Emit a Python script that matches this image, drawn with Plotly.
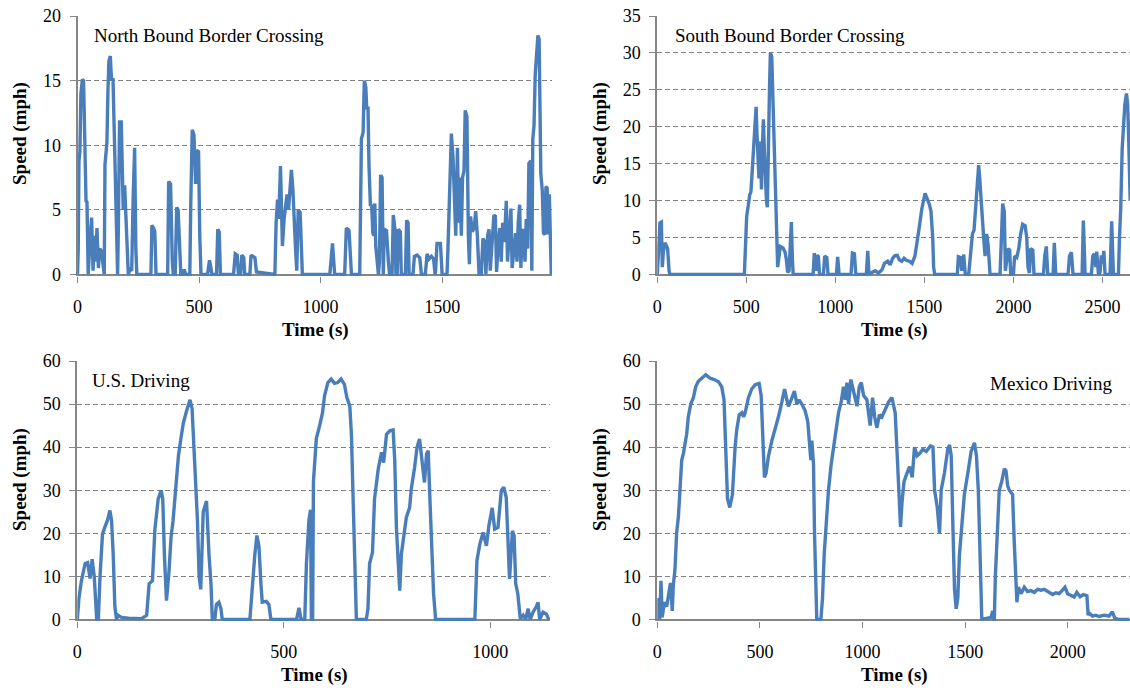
import plotly.graph_objects as go

# ---------------- data (time s, speed mph) ----------------
nb_points = [
    (0, 0), (3, 2), (6, 8.8), (10, 9.5), (14, 14), (20, 15.1), (25, 15), (28, 12), (32, 8), (35, 5.7),
    (39, 5.6), (44, 0), (51, 2.5), (58, 4.4), (64, 0.3), (69, 3), (75, 1), (80, 3.6), (86, 0.5), (92, 2),
    (99, 1.8), (106, 0.2), (110, 0),
    (113, 8.5), (117, 9.2), (121, 10.2), (125, 14), (129, 16.5), (135, 16.9), (140, 15), (146, 15.2),
    (151, 11), (157, 6), (161, 2), (165, 0),
    (168, 3.5), (173, 11.8), (180, 11.8), (184, 9), (188, 5), (194, 6.9), (198, 5), (203, 3), (209, 0),
    (216, 0.4), (223, 0.3), (229, 6), (235, 9.8), (240, 2), (244, 0),
    (302, 0), (306, 3.8), (313, 3.6), (318, 3.3), (323, 0),
    (371, 0), (375, 7.2), (383, 7.0), (390, 1), (394, 0),
    (402, 0), (408, 5.2), (414, 5.0), (421, 2), (425, 0),
    (435, 0), (439, 0.4), (445, 0),
    (462, 0), (466, 5.5), (472, 11.2), (479, 10.8), (486, 7), (491, 9.6), (498, 9.5), (503, 3), (508, 0),
    (535, 0), (543, 1.1), (549, 0.5), (553, 0),
    (572, 0), (577, 3.5), (583, 3.3), (588, 0),
    (642, 0), (649, 1.6), (657, 1.5), (662, 0),
    (671, 0), (676, 1.5), (684, 1.3), (688, 0),
    (709, 0), (714, 1.5), (730, 1.3), (736, 0.2), (812, 0),
    (817, 4), (823, 5.8), (828, 4.3), (835, 8.4), (839, 6), (843, 2.2), (850, 4.3), (857, 5.8), (862, 6.2),
    (868, 5), (875, 6.5), (880, 8.1), (886, 6.6), (891, 5), (897, 2), (902, 0.3), (908, 5), (916, 4.8),
    (921, 2), (925, 0),
    (1038, 0), (1049, 2.4), (1058, 0),
    (1099, 0), (1106, 3.6), (1117, 3.4), (1127, 0),
    (1161, 0), (1168, 10.5), (1175, 11), (1180, 15), (1186, 14.5), (1190, 12.8), (1195, 13), (1199, 8.5),
    (1205, 5.3), (1210, 5.4), (1215, 3.2), (1219, 3), (1223, 5.5), (1227, 2.2), (1234, 0.5), (1238, 0),
    (1242, 1), (1247, 7.7), (1253, 7.5), (1258, 0),
    (1262, 3.5), (1271, 3.4), (1279, 1), (1284, 0),
    (1294, 0), (1299, 4.6), (1306, 3.5), (1310, 0),
    (1315, 0), (1320, 3.5), (1328, 3.3), (1332, 0),
    (1349, 0), (1354, 4.2), (1360, 4), (1364, 0),
    (1380, 0), (1386, 1.4), (1397, 1.5), (1408, 1.3), (1415, 0),
    (1431, 0), (1438, 1.6), (1446, 1.2), (1456, 1.4), (1465, 1.2), (1471, 0),
    (1473, 0.2), (1479, 2.4), (1493, 2.4), (1500, 0),
    (1520, 0), (1524, 2), (1531, 7), (1538, 10.9), (1545, 9), (1550, 6), (1556, 3), (1563, 9.8),
    (1568, 4), (1573, 7.5), (1579, 3), (1584, 7.5), (1590, 8), (1595, 12.7), (1602, 12.2), (1608, 3),
    (1612, 0.8), (1617, 4.5), (1624, 3.3), (1632, 3.6), (1638, 4.9), (1645, 3), (1652, 0),
    (1661, 0), (1668, 2.8), (1675, 2.5), (1680, 0), (1687, 3), (1693, 3.5), (1698, 0.3), (1706, 3),
    (1713, 4.6), (1719, 4.5), (1724, 0.2), (1731, 2.5), (1738, 3.6), (1743, 1), (1749, 4), (1756, 2.5),
    (1764, 5.7), (1769, 1), (1775, 3), (1783, 5.1), (1788, 0.5), (1797, 2.5), (1802, 3.2), (1808, 1),
    (1813, 4), (1819, 5.4), (1824, 0.5), (1830, 3.3), (1835, 3.5), (1841, 1), (1846, 4.3), (1852, 2),
    (1857, 8.6), (1865, 8.8), (1869, 0.3), (1873, 10.5), (1878, 11.5), (1883, 15.5), (1889, 17.5),
    (1894, 18.5), (1899, 18.2), (1904, 13), (1906, 7.8), (1912, 6.5), (1917, 3.2), (1923, 3.1),
    (1927, 6.8), (1932, 6.7), (1937, 3.1), (1941, 6.2), (1945, 4), (1949, 0),
]

sb_points = [
    (0, 0), (10, 4), (15, 7), (23, 7.1), (28, 1), (34, 3), (43, 4.3), (53, 3.8), (58, 3.5), (66, 0.5), (71, 0),
    (489, 0), (495, 2.8), (502, 7.9), (512, 9.5), (519, 10.8), (526, 11.2), (534, 14), (543, 17.5),
    (549, 20.5), (555, 22.7), (560, 19), (566, 16), (571, 13), (579, 18), (585, 11.5), (590, 17),
    (596, 21), (601, 17), (607, 13), (613, 10), (618, 9.1), (624, 20), (630, 25), (635, 30), (643, 29.5),
    (648, 25), (654, 20), (660, 15), (665, 9), (671, 5), (676, 1), (684, 2.5), (691, 3.8), (706, 3.6),
    (718, 3), (725, 2), (732, 0.3), (740, 0.5), (748, 6), (753, 7.1), (759, 2), (763, 0),
    (875, 0), (882, 2.9), (890, 0.5), (897, 2.6), (905, 2.4), (911, 0),
    (933, 0), (940, 2.5), (952, 2.3), (959, 0),
    (1006, 0), (1013, 2.4), (1021, 0),
    (1088, 0), (1096, 2.9), (1107, 2.8), (1115, 0),
    (1174, 0), (1182, 3.2), (1189, 0),
    (1201, 0.2), (1223, 0.5), (1242, 0.2), (1261, 0.6), (1276, 1.5), (1294, 1.8), (1308, 1.3),
    (1322, 2.2), (1335, 2.55), (1348, 2.6), (1359, 2.0), (1373, 1.8), (1386, 2.2), (1401, 1.9),
    (1416, 1.8), (1431, 1.5), (1447, 2.5), (1461, 5.2), (1472, 6.5), (1485, 8.8), (1494, 10),
    (1504, 11), (1517, 10.2), (1528, 9.5), (1537, 8.6), (1547, 5), (1552, 1), (1558, 0),
    (1685, 0), (1691, 2.4), (1702, 2.3), (1710, 0.5), (1721, 2.7), (1730, 0),
    (1749, 0), (1760, 3), (1770, 5.5), (1779, 6), (1786, 8), (1792, 11), (1800, 13), (1805, 14.8),
    (1811, 13), (1818, 10), (1826, 8.5), (1833, 5), (1841, 2.5), (1850, 5.5), (1858, 4), (1863, 1), (1869, 0),
    (1925, 0), (1933, 7), (1940, 9.6), (1949, 8.5), (1955, 0.5), (1963, 2), (1970, 3.5), (1979, 3.3), (1985, 0),
    (2000, 0), (2007, 2.5), (2019, 2.3), (2030, 3.5), (2041, 5.5), (2052, 6.8), (2066, 6.6), (2075, 5),
    (2082, 1), (2090, 0.2), (2097, 3.5), (2109, 3.3), (2116, 0),
    (2169, 0), (2176, 2.5), (2185, 3.8), (2193, 0), (2223, 0), (2230, 4.3), (2238, 0),
    (2307, 0), (2315, 2.5), (2326, 3), (2335, 0),
    (2386, 0), (2393, 7.3), (2403, 0),
    (2438, 0), (2446, 2.5), (2455, 2.8), (2463, 1), (2468, 3.1), (2478, 0), (2487, 0.3), (2494, 2.6),
    (2502, 1.5), (2508, 3.2), (2515, 0),
    (2543, 0), (2552, 7.2), (2562, 0),
    (2590, 0), (2596, 5), (2603, 9), (2611, 17), (2618, 21), (2626, 23), (2635, 24.5), (2642, 23),
    (2648, 18), (2656, 10),
]

us_points = [
    (0, 0), (4, 5), (10, 9), (19, 13), (25, 13.2), (31, 9.5), (36, 14), (41, 10), (47, 0), (51, 0),
    (55, 10), (61, 19.8), (67, 21.5), (73, 23), (79, 25.3), (83, 23), (87, 15), (91, 3), (95, 0), (99, 1),
    (107, 0.5), (124, 0.3), (156, 0.2), (168, 1), (174, 8.3), (182, 9), (188, 21), (196, 28), (203, 30),
    (207, 28), (211, 15), (216, 4.4), (222, 11), (227, 19), (232, 23), (238, 30), (245, 38), (251, 42),
    (257, 45.7), (265, 48.5), (273, 51), (278, 49), (283, 40), (287, 32), (291, 23), (295, 10), (299, 7),
    (305, 25), (313, 27.5), (319, 15), (324, 8), (327, 0), (333, 0), (337, 3.5), (343, 4), (348, 2.5),
    (351, 0), (418, 0), (424, 8), (430, 15), (435, 19.5), (440, 17), (445, 8), (448, 4), (458, 4.2),
    (464, 3.5), (469, 0), (531, 0), (537, 2.7), (542, 0), (551, 0), (555, 13), (561, 23), (565, 25.5),
    (567, 0), (570, 0), (572, 32), (575, 38), (579, 42), (587, 45), (594, 48), (599, 52), (607, 55),
    (615, 55.8), (623, 54.8), (631, 55), (639, 55.8), (647, 54.6), (653, 51.5), (660, 49.6), (664, 43),
    (668, 28.3), (672, 12), (676, 0), (700, 0), (704, 2.5), (708, 13), (715, 15.6), (720, 28), (729, 35),
    (737, 38.8), (742, 36.4), (749, 43), (757, 43.8), (765, 44), (769, 36.8), (773, 21.4), (777, 15.2),
    (781, 6.7), (785, 15.2), (791, 19.8), (797, 23.7), (805, 26), (809, 30.3), (817, 35.3), (823, 40),
    (829, 41.9), (835, 36.8), (841, 31.8), (846, 38.4), (850, 39.2), (854, 28.3), (858, 16.8), (863, 6),
    (868, 0), (963, 0), (968, 13.7), (975, 17.5), (983, 20.2), (991, 17.1), (997, 21.8), (1005, 25.9),
    (1011, 21), (1019, 21.4), (1027, 29.9), (1033, 30.7), (1039, 28.3), (1045, 15.2), (1047, 9.4),
    (1054, 20.6), (1058, 19.5), (1062, 8.3), (1067, 6), (1073, 0.2), (1080, 1), (1086, 0), (1092, 2.5),
    (1097, 0), (1104, 1.7), (1112, 3), (1116, 4), (1120, 0), (1128, 1.7), (1136, 1.3), (1142, 0),
]

mx_points = [
    (0, 0), (5, 5), (12, 0), (18, 9), (24, 0.5), (34, 4), (46, 3), (54, 5.5), (64, 8.5), (73, 2), (78, 8),
    (86, 11.5), (94, 20), (103, 24), (111, 32), (119, 37), (127, 38.5), (135, 41), (143, 43), (151, 47),
    (163, 50), (176, 51.5), (187, 54), (200, 55.3), (216, 56), (236, 56.8), (257, 56), (278, 55.7),
    (298, 55.2), (314, 54), (325, 51), (334, 40), (342, 28), (353, 26), (366, 29), (379, 40), (387, 44),
    (399, 47.5), (412, 48), (420, 47), (428, 48), (444, 51.5), (460, 53.5), (477, 54.5), (496, 54.8),
    (506, 52), (514, 40), (522, 33), (530, 34), (542, 38), (558, 41.5), (574, 44), (590, 47), (607, 50.5),
    (620, 53.5), (631, 51), (639, 49.5), (652, 51), (668, 53), (680, 50), (691, 51), (704, 50),
    (720, 48.5), (733, 46), (742, 40), (748, 37), (753, 41.5), (761, 36), (766, 20), (773, 3), (777, 0),
    (797, 0), (805, 5), (813, 15), (821, 22), (834, 30), (847, 36), (859, 40), (870, 43.5), (883, 48),
    (896, 50.5), (907, 54), (916, 51), (924, 55), (932, 50), (943, 55.7), (956, 53), (973, 49.5),
    (984, 54), (994, 55), (1005, 52), (1021, 51), (1029, 48), (1037, 45), (1049, 51.5), (1059, 47),
    (1070, 44.5), (1082, 47.5), (1094, 47), (1111, 49), (1127, 50.5), (1143, 51.5), (1151, 50),
    (1159, 48), (1169, 38), (1176, 30), (1185, 21.5), (1192, 27), (1202, 32), (1213, 33.5), (1229, 35.5),
    (1242, 33), (1253, 40), (1266, 38), (1278, 38.5), (1294, 39.5), (1310, 39), (1331, 40.3), (1343, 40),
    (1351, 30), (1364, 26), (1375, 20), (1383, 30), (1399, 34), (1415, 39.5), (1424, 40.5), (1432, 38),
    (1440, 22), (1448, 7), (1456, 2.5), (1464, 5), (1472, 15), (1483, 22), (1496, 29), (1513, 34),
    (1529, 39), (1545, 41), (1555, 38), (1564, 30), (1571, 15), (1581, 0), (1626, 0.5), (1634, 2),
    (1639, 0), (1642, 0), (1647, 10), (1655, 20), (1666, 30), (1678, 32), (1691, 35), (1699, 34.5),
    (1707, 31), (1715, 30), (1723, 29.5), (1731, 29), (1739, 18), (1748, 6), (1752, 4), (1759, 7.5),
    (1772, 6), (1788, 7.5), (1804, 6.5), (1820, 6.7), (1837, 6.3), (1853, 7), (1869, 6.8), (1885, 7),
    (1910, 6.3), (1926, 5.8), (1942, 6.2), (1958, 6), (1974, 6.8), (1986, 7.5), (1999, 6), (2015, 5.5),
    (2031, 5.2), (2044, 6.3), (2060, 5.3), (2076, 5.8), (2093, 5.5), (2099, 1), (2104, 1.5), (2120, 0.8),
    (2136, 1), (2153, 0.7), (2177, 1.0), (2201, 0.8), (2217, 1.8), (2229, 0.3), (2250, 0), (2300, 0),
]

panel_titles = ["North Bound Border Crossing", "South Bound Border Crossing", "U.S. Driving", "Mexico Driving"]
x_max = [1952, 2655, 1145, 2303]
y_max = [20, 35, 60, 60]
y_step = [5, 5, 10, 10]
x_ticks = [[0, 500, 1000, 1500], [0, 500, 1000, 1500, 2000, 2500], [0, 500, 1000], [0, 500, 1000, 1500, 2000]]
x_title = "Time (s)"
y_title = "Speed (mph)"

# ---------------- figure ----------------
W, H = 1130, 688
LINE = "#4A7EBB"
GRID = "#7F7F7F"
AX = "#868686"
FONT = "Liberation Serif"

# pixel boxes of the four plot areas (left, right, top, bottom)
boxes = [(77.5, 552, 16, 276), (657.3, 1130, 16, 276), (77.3, 550, 361, 621), (657.3, 1130, 361, 621)]

fig = go.Figure()
series = [nb_points, sb_points, us_points, mx_points]
for i, pts in enumerate(series):
    n = "" if i == 0 else str(i + 1)
    fig.add_trace(go.Scatter(
        x=[p[0] for p in pts], y=[p[1] for p in pts], mode="lines",
        line=dict(color=LINE, width=3.4), xaxis="x" + n, yaxis="y" + n,
        showlegend=False, hoverinfo="skip"))

layout = dict(
    width=W, height=H, margin=dict(l=0, r=0, t=0, b=0, autoexpand=False),
    paper_bgcolor="white", plot_bgcolor="white",
    font=dict(family=FONT, color="black", size=18),
    annotations=[],
)
for i in range(4):
    n = "" if i == 0 else str(i + 1)
    l, r, t, b = boxes[i]
    h_px = b - t
    pad = 1.5 / h_px * y_max[i]
    layout["xaxis" + n] = dict(
        domain=[l / W, r / W], range=[0, x_max[i]], anchor="y" + n, automargin=False,
        tickvals=x_ticks[i], showgrid=False, zeroline=False, showline=False,
        ticks="outside", ticklen=6, tickcolor=AX, tickwidth=1.2,
        tickfont=dict(size=18, family=FONT), ticklabelstandoff=8,
    )
    layout["yaxis" + n] = dict(
        domain=[1 - b / H, 1 - t / H], range=[-pad, y_max[i]], anchor="x" + n, automargin=False,
        dtick=y_step[i], tick0=0, showgrid=True, gridcolor=GRID, gridwidth=1.2, griddash="5px,3px",
        zeroline=True, zerolinecolor=AX, zerolinewidth=1.8,
        showline=True, linecolor=AX, linewidth=1.8,
        ticks="outside", ticklen=6, tickcolor=AX, tickwidth=1.2,
        tickfont=dict(size=18, family=FONT), ticklabelstandoff=5,
    )

ann = layout["annotations"]
# panel titles
ann.append(dict(text=panel_titles[0], x=92 / W, y=1 - 36 / H, xanchor="left", yanchor="middle"))
ann.append(dict(text=panel_titles[1], x=672.5 / W, y=1 - 36 / H, xanchor="left", yanchor="middle"))
ann.append(dict(text=panel_titles[2], x=90 / W, y=1 - 380 / H, xanchor="left", yanchor="middle"))
ann.append(dict(text=panel_titles[3], x=1114 / W, y=1 - 383 / H, xanchor="right", yanchor="middle"))
for a in ann:
    a.update(xref="paper", yref="paper", showarrow=False, font=dict(size=19, family=FONT, color="black"))

# axis titles
for xc, yc in [(20, 134), (600, 134), (20, 480), (600, 480)]:
    ann.append(dict(text="<b>" + y_title + "</b>", x=xc / W, y=1 - yc / H, xref="paper", yref="paper",
                    showarrow=False, textangle=-90, xanchor="center", yanchor="middle",
                    font=dict(size=19, family=FONT, color="black")))
for xc, yc in [(315, 330), (894, 330), (314, 675), (894, 675)]:
    ann.append(dict(text="<b>" + x_title + "</b>", x=xc / W, y=1 - yc / H, xref="paper", yref="paper",
                    showarrow=False, xanchor="center", yanchor="middle",
                    font=dict(size=19, family=FONT, color="black")))

fig.update_layout(**layout)
fig.write_html("out.html", config={"displayModeBar": False},
               post_script="document.body.style.margin='0';document.body.style.overflow='hidden';")
